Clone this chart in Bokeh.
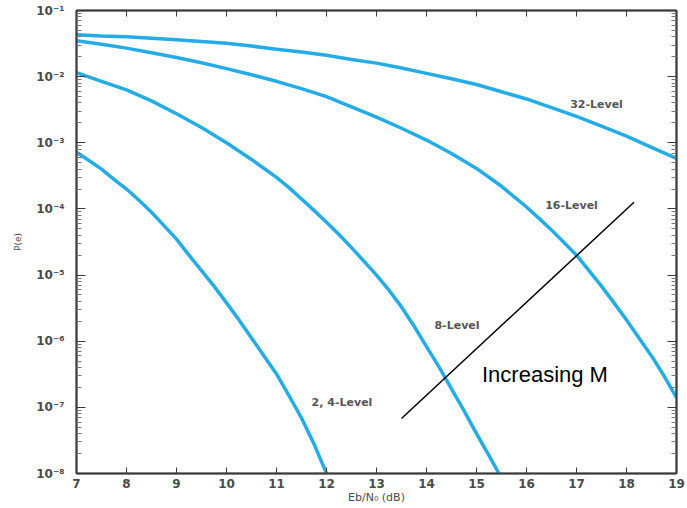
from bokeh.plotting import figure
from bokeh.models import (LinearAxis, LogAxis, FixedTicker, CustomJSTickFormatter,
                          Label)
from bokeh.embed import file_html
from bokeh.resources import INLINE

# ---- data (Eb/N0 in dB, P(e)) ----
ebn0_24 = [7, 7.25, 7.5, 7.75, 8, 8.25, 8.5, 8.75, 9, 9.25, 9.5, 9.75, 10,
           10.25, 10.5, 10.75, 11, 11.25, 11.5, 11.75, 12]
pe_24 = [7.2e-4, 5.4e-4, 4.0e-4, 2.8e-4, 2.0e-4, 1.35e-4, 8.9e-5, 5.6e-5,
         3.5e-5, 2.0e-5, 1.17e-5, 6.8e-6, 3.8e-6, 2.1e-6, 1.12e-6, 6.0e-7,
         3.2e-7, 1.5e-7, 6.9e-8, 2.8e-8, 1.0e-8]

ebn0_8 = [7, 7.5, 8, 8.5, 9, 9.5, 10, 10.5, 11, 11.25, 11.5, 11.75, 12,
          12.25, 12.5, 12.75, 13, 13.25, 13.5, 13.75, 14, 14.25, 14.5, 14.75,
          15, 15.25, 15.45]
pe_8 = [1.15e-2, 8.5e-3, 6.3e-3, 4.3e-3, 2.75e-3, 1.7e-3, 1.0e-3, 5.6e-4,
        3.0e-4, 2.1e-4, 1.41e-4, 9.5e-5, 6.3e-5, 4.1e-5, 2.6e-5, 1.62e-5,
        1.0e-5, 5.9e-6, 3.3e-6, 1.7e-6, 8.3e-7, 4.1e-7, 1.9e-7, 8.9e-8,
        4.0e-8, 1.86e-8, 1.0e-8]

ebn0_16 = [7, 7.5, 8, 8.5, 9, 9.5, 10, 10.5, 11, 11.5, 12, 12.5, 13, 13.5,
           14, 14.5, 15, 15.5, 16, 16.25, 16.5, 16.75, 17, 17.25, 17.5, 17.75,
           18, 18.25, 18.5, 18.75, 19]
pe_16 = [3.5e-2, 3.1e-2, 2.7e-2, 2.3e-2, 1.95e-2, 1.62e-2, 1.32e-2, 1.07e-2,
         8.5e-3, 6.6e-3, 5.0e-3, 3.5e-3, 2.45e-3, 1.66e-3, 1.1e-3, 6.9e-4,
         4.1e-4, 2.2e-4, 1.07e-4, 7.2e-5, 4.8e-5, 3.1e-5, 2.0e-5, 1.17e-5,
         6.8e-6, 3.8e-6, 2.1e-6, 1.12e-6, 6.0e-7, 3.0e-7, 1.4e-7]

ebn0_32 = [7, 7.5, 8, 8.5, 9, 9.5, 10, 10.5, 11, 11.5, 12, 12.5, 13, 13.5,
           14, 14.5, 15, 15.5, 16, 16.5, 17, 17.5, 18, 18.5, 19]
pe_32 = [4.3e-2, 4.1e-2, 4.0e-2, 3.8e-2, 3.6e-2, 3.4e-2, 3.2e-2, 2.9e-2,
         2.6e-2, 2.35e-2, 2.1e-2, 1.82e-2, 1.6e-2, 1.35e-2, 1.12e-2, 9.3e-3,
         7.6e-3, 5.9e-3, 4.6e-3, 3.4e-3, 2.5e-3, 1.78e-3, 1.26e-3, 8.5e-4,
         5.8e-4]

arrow_x = [13.5, 18.15]
arrow_y = [6.8e-8, 1.26e-4]

x_ticks = [7, 8, 9, 10, 11, 12, 13, 14, 15, 16, 17, 18, 19]
y_exponents = [-8, -7, -6, -5, -4, -3, -2, -1]

curve_names = ["2, 4-Level", "8-Level", "16-Level", "32-Level"]

# ---- figure ----
BLUE = "#25ACE6"
AXC = "#3a3a3a"
TXT = "#4a4a4a"

p = figure(width=687, height=508, x_range=(7, 19), y_range=(1e-8, 1e-1),
           y_axis_type="log", output_backend="svg", toolbar_location=None,
           min_border_left=76, min_border_right=11, min_border_top=10,
           min_border_bottom=35, background_fill_color="white",
           border_fill_color="white")
p.xgrid.visible = False
p.ygrid.visible = False
p.outline_line_color = AXC
p.outline_line_width = 1.5

y_major = [10.0 ** e for e in y_exponents]
y_minor = [m * 10.0 ** e for e in y_exponents[:-1] for m in range(2, 10)]

fmt = CustomJSTickFormatter(code="""
const sup = {"-":"\u207b","0":"\u2070","1":"\u00b9","2":"\u00b2","3":"\u00b3",
             "4":"\u2074","5":"\u2075","6":"\u2076","7":"\u2077","8":"\u2078","9":"\u2079"};
const e = Math.round(Math.log10(tick));
return "10" + String(e).split("").map(c => sup[c]).join("");
""")

def style_y(ax, labels=True):
    ax.ticker = FixedTicker(ticks=y_major, minor_ticks=y_minor)
    ax.axis_line_color = AXC
    ax.axis_line_width = 2
    ax.major_tick_in = 9
    ax.major_tick_out = 0
    ax.minor_tick_in = 5
    ax.minor_tick_out = 0
    ax.major_tick_line_color = AXC
    ax.minor_tick_line_color = "#777"
    if labels:
        ax.formatter = fmt
        ax.major_label_text_font = "DejaVu Sans"
        ax.major_label_text_font_style = "bold"
        ax.major_label_text_font_size = "12px"
        ax.major_label_text_color = TXT
        ax.major_label_standoff = 12
    else:
        ax.major_label_text_font_size = "1px"
        ax.major_label_text_color = None
        ax.major_label_standoff = 0

def style_x(ax, labels=True):
    ax.ticker = FixedTicker(ticks=x_ticks)
    ax.axis_line_color = AXC
    ax.axis_line_width = 2
    ax.major_tick_in = 6
    ax.major_tick_out = 0
    ax.minor_tick_line_color = None
    ax.major_tick_line_color = AXC
    if labels:
        ax.major_label_text_font = "DejaVu Sans"
        ax.major_label_text_font_style = "bold"
        ax.major_label_text_font_size = "12px"
        ax.major_label_text_color = TXT
        ax.major_label_standoff = 5
    else:
        ax.major_label_text_font_size = "1px"
        ax.major_label_text_color = None
        ax.major_label_standoff = 0

style_y(p.yaxis[0])
p.yaxis[0].axis_label = "P(e)"
p.yaxis[0].axis_label_text_font = "DejaVu Sans"
p.yaxis[0].axis_label_text_font_size = "9px"
p.yaxis[0].axis_label_text_font_style = "normal"
p.yaxis[0].axis_label_text_color = TXT
p.yaxis[0].axis_label_standoff = 10

style_x(p.xaxis[0])
p.xaxis[0].axis_label = "Eb/N\u2080 (dB)"
p.xaxis[0].axis_label_text_font = "DejaVu Sans"
p.xaxis[0].axis_label_text_font_size = "11px"
p.xaxis[0].axis_label_text_font_style = "normal"
p.xaxis[0].axis_label_text_color = TXT
p.xaxis[0].axis_label_standoff = 0

right = LogAxis()
style_y(right, labels=False)
p.add_layout(right, "right")
top = LinearAxis()
style_x(top, labels=False)
p.add_layout(top, "above")

# ---- curves ----
for xs, ys in [(ebn0_24, pe_24), (ebn0_8, pe_8), (ebn0_16, pe_16), (ebn0_32, pe_32)]:
    p.line(xs, ys, line_color=BLUE, line_width=3.5, line_join="round")

p.line(arrow_x, arrow_y, line_color="black", line_width=1.5)

# ---- curve labels ----
label_pos = [(12.31, 1.2e-7), (14.61, 1.7e-6), (16.9, 1.12e-4), (17.4, 3.8e-3)]
for name, (lx, ly) in zip(curve_names, label_pos):
    p.add_layout(Label(x=lx, y=ly, text=name, text_align="center",
                       text_baseline="middle", text_font="DejaVu Sans",
                       text_font_style="bold", text_font_size="11px",
                       text_color="#555555"))

p.add_layout(Label(x=15.11, y=3.1e-7, text="Increasing M", text_align="left",
                   text_baseline="alphabetic", text_font="Liberation Sans",
                   text_font_size="22px", text_color="black"))

open("out.html", "w").write(file_html(p, INLINE))
